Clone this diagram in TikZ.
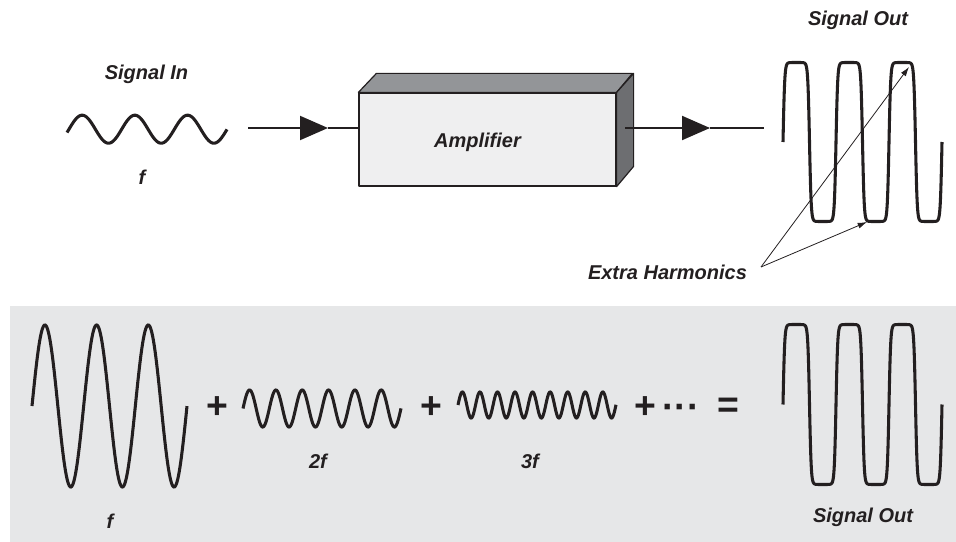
\documentclass[tikz,border=0pt]{standalone}
\usepackage{fontspec}
\setmainfont{Liberation Sans}
\usetikzlibrary{arrows.meta}
\definecolor{ink}{HTML}{231F20}
\definecolor{panel}{HTML}{E6E7E8}
\definecolor{boxfront}{HTML}{EFEFF0}
\definecolor{boxtop}{HTML}{939598}
\definecolor{boxside}{HTML}{6D6E71}
\begin{document}
\begin{tikzpicture}[x=0.75pt,y=-0.75pt,
  lbl/.style={font=\fontsize{15}{18}\selectfont\bfseries\itshape, text=ink, inner sep=0, anchor=base},
  op/.style={font=\fontsize{28}{30}\selectfont\bfseries, text=ink, inner sep=0},
  wave/.style={draw=ink, line width=2.3pt},
  conn/.style={draw=ink, line width=1.5pt},
  ann/.style={draw=ink, line width=0.6pt, -{Latex[length=7pt,width=4.5pt]}},
  facestyle/.style={draw=ink, line width=0.9pt, line join=round},
]
\useasboundingbox (0,0) rectangle (956,542);
\fill[panel] (10,306) rectangle (956,542);

% ---------- top row ----------
\node[lbl] (sigin) at (146.5,79.3) {Signal In};
\draw[wave] plot[domain=67:227, samples=200] (\x, {129.2 - 14*sin(360/52.7*(\x-69))});
\node[lbl] (fin) at (142,184) {f};

\node[facestyle, fill=boxfront, minimum width=192.75pt, minimum height=69.75pt, inner sep=0] (amp) at (487.5,139.5) {};
\draw[facestyle, fill=boxtop] (amp.north west) -- ++(18,-19) -- ++(256,0) -- (amp.north east) -- cycle;
\draw[facestyle, fill=boxside] (amp.north east) -- ++(17,-19) -- ++(0,93) -- (amp.south east) -- cycle;
\node[lbl] (amplabel) at (477.5,147) {Amplifier};

\coordinate (inStart) at (248,128);
\coordinate (inTip) at (328,128);
\draw[conn, -{Triangle[length=21pt,width=18pt]}] (inStart) -- (inTip);
\draw[conn] (inTip) -- (amp.west |- inTip);

\coordinate (outStart) at (625,128);
\coordinate (outTip) at (710,128);
\coordinate (outEnd) at (764,128);
\draw[conn, -{Triangle[length=21pt,width=18pt]}] (outStart) -- (outTip);
\draw[conn] (outTip) -- (outEnd);

\node[lbl] (sigout) at (858,26) {Signal Out};
\draw[wave] plot[domain=783:942, samples=600] (\x, {142 - 79.5*tanh(5*sin(360/53*(\x-783)))});

\node[lbl] (extra) at (667.5,279.5) {Extra Harmonics};
\coordinate (eh) at (761,267);
\coordinate (tipA) at (909,67);
\coordinate (tipB) at (867,222);
\draw[ann] (eh) -- (tipA);
\draw[ann] (eh) -- (tipB);

% ---------- bottom panel ----------
\draw[wave] plot[domain=32:187, samples=200] (\x, {406 - 81*sin(360/51.67*(\x-32))});
\node[lbl] (f1) at (110,528) {f};
\node[op] (plus1) at (217,408) {+};
\draw[wave] plot[domain=243:401, samples=300] (\x, {408.5 - 18.5*sin(360/26.33*(\x-243))});
\node[lbl] (f2) at (318,468) {2f};
\node[op] (plus2) at (431,408) {+};
\draw[wave] plot[domain=458:616, samples=400] (\x, {405 - 13*sin(360/17.55*(\x-458))});
\node[lbl] (f3) at (530,468) {3f};
\node[op] (plus3) at (645,408) {+};
\node[op, anchor=base] (dots) at (681,419) {···};
\node[op] (eq) at (728,408) {=};
\draw[wave] plot[domain=783:942, samples=600] (\x, {404.5 - 80*tanh(5*sin(360/53*(\x-783)))});
\node[lbl] (sigout2) at (863,522.5) {Signal Out};
\end{tikzpicture}
\end{document}
